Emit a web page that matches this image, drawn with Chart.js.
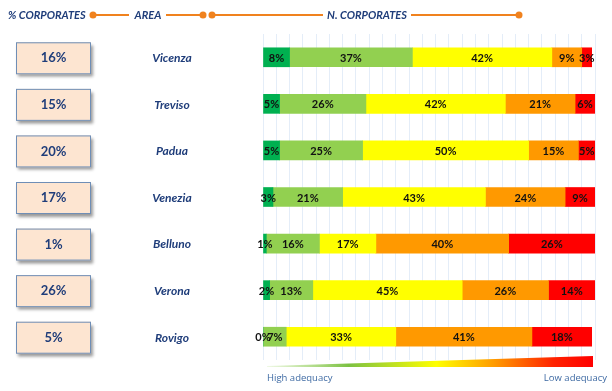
<!DOCTYPE html>
<html>
<head>
<meta charset="utf-8" />
<script src="https://cdn.jsdelivr.net/npm/chart.js"></script>
<style>
  html, body { margin: 0; padding: 0; background: #fff; }
  #wrap { position: relative; width: 612px; height: 391px; }
</style>
</head>
<body>
<div id="wrap"><canvas id="adequacyChart" width="612" height="391"></canvas></div>
<script>
// data
const areas = ["Vicenza", "Treviso", "Padua", "Venezia", "Belluno", "Verona", "Rovigo"];
const corporateShare = [16, 15, 20, 17, 1, 26, 5];
const veryHigh = [8, 5, 5, 3, 1, 2, 0];
const high = [37, 26, 25, 21, 16, 13, 7];
const medium = [42, 42, 50, 43, 17, 45, 33];
const low = [9, 21, 15, 24, 40, 26, 41];
const veryLow = [3, 6, 5, 9, 26, 14, 18];
const headerLabels = ["% CORPORATES", "AREA", "N. CORPORATES"];
const scaleLabels = ["High adequacy", "Low adequacy"];

const bandColors = ["#00B050", "#92D050", "#FFFF00", "#FF9900", "#FF0000"];
const navy = "#1F3D7A";
const orange = "#F0821E";

const series = [veryHigh, high, medium, low, veryLow];

// draws segment labels, the left side boxes / area names, header and adequacy wedge
const decor = {
  id: "decor",
  afterDatasetsDraw(chart) {
    const ctx = chart.ctx;
    ctx.save();
    ctx.font = "bold 11px Lato, 'Liberation Sans', sans-serif";
    ctx.fillStyle = "#111";
    ctx.textAlign = "center";
    ctx.textBaseline = "middle";
    chart.data.datasets.forEach((ds, di) => {
      const meta = chart.getDatasetMeta(di);
      meta.data.forEach((bar, i) => {
        const cx = (bar.x + bar.base) / 2;
        ctx.fillText(ds.data[i] + "%", cx, bar.y + 1);
      });
    });
    ctx.restore();
  },
  afterDraw(chart) {
    const ctx = chart.ctx;
    const yScale = chart.scales.y;
    ctx.save();

    // header row
    const hy = 15;
    ctx.font = "italic bold 11px Lato, 'Liberation Sans', sans-serif";
    ctx.fillStyle = navy;
    ctx.textBaseline = "middle";
    ctx.textAlign = "left";
    ctx.fillText(headerLabels[0], 8, hy);
    ctx.textAlign = "center";
    ctx.fillText(headerLabels[1], 148, hy);
    ctx.fillText(headerLabels[2], 367, hy);

    ctx.strokeStyle = orange;
    ctx.lineWidth = 2;
    const segs = [[93, 129], [166, 203], [212, 323], [411, 519]];
    segs.forEach(([a, b]) => {
      ctx.beginPath();
      ctx.moveTo(a, hy);
      ctx.lineTo(b, hy);
      ctx.stroke();
    });
    ctx.fillStyle = orange;
    [93, 203, 212, 519].forEach((x) => {
      ctx.beginPath();
      ctx.arc(x, hy, 3.5, 0, Math.PI * 2);
      ctx.fill();
    });

    // left boxes + area names
    areas.forEach((name, i) => {
      const y = yScale.getPixelForValue(i) + 1;
      ctx.save();
      ctx.shadowColor = "rgba(0,0,0,0.4)";
      ctx.shadowBlur = 3;
      ctx.shadowOffsetX = 2;
      ctx.shadowOffsetY = 3;
      ctx.fillStyle = "#FDE5D1";
      ctx.fillRect(16, y - 16, 75, 32);
      ctx.restore();
      ctx.strokeStyle = "#6F8EB6";
      ctx.lineWidth = 1;
      ctx.strokeRect(16.5, y - 15.5, 74, 31);

      ctx.fillStyle = navy;
      ctx.textAlign = "center";
      ctx.textBaseline = "middle";
      ctx.font = "bold 13px Lato, 'Liberation Sans', sans-serif";
      ctx.fillText(corporateShare[i] + "%", 53.5, y);
      ctx.font = "italic bold 12px Lato, 'Liberation Sans', sans-serif";
      ctx.fillText(name, 172, y);
    });

    // adequacy wedge
    const x0 = 267, x1 = 593;
    const grad = ctx.createLinearGradient(x0, 0, x1, 0);
    grad.addColorStop(0, "rgba(146,208,80,0.15)");
    grad.addColorStop(0.25, "#7CC142");
    grad.addColorStop(0.52, "#FFFF00");
    grad.addColorStop(0.7, "#FF9900");
    grad.addColorStop(0.88, "#FF2200");
    grad.addColorStop(1, "#FF0000");
    ctx.fillStyle = grad;
    ctx.beginPath();
    ctx.moveTo(x0, 366);
    ctx.lineTo(x1, 356);
    ctx.lineTo(x1, 367);
    ctx.lineTo(x0, 367);
    ctx.closePath();
    ctx.fill();

    ctx.font = "9.5px 'Open Sans', 'DejaVu Sans', sans-serif";
    ctx.fillStyle = "#3E6AA3";
    ctx.textBaseline = "middle";
    ctx.textAlign = "left";
    ctx.fillText(scaleLabels[0], 267, 378);
    ctx.textAlign = "right";
    ctx.fillText(scaleLabels[1], 607, 378);

    ctx.restore();
  }
};

const ctx = document.getElementById("adequacyChart").getContext("2d");
new Chart(ctx, {
  type: "bar",
  data: {
    labels: areas,
    datasets: series.map((vals, k) => ({
      data: vals,
      backgroundColor: bandColors[k],
      borderWidth: 0,
      barThickness: 19
    }))
  },
  options: {
    indexAxis: "y",
    responsive: false,
    animation: false,
    layout: { padding: { left: 263, right: 17, top: 34, bottom: 31 } },
    scales: {
      x: {
        stacked: true,
        min: 0,
        max: 100,
        ticks: { display: false, stepSize: 4 },
        grid: { color: "#E4EDF8", drawTicks: false },
        border: { display: false }
      },
      y: { stacked: true, display: false }
    },
    plugins: {
      legend: { display: false },
      tooltip: { enabled: false }
    }
  },
  plugins: [decor]
});
</script>
</body>
</html>
